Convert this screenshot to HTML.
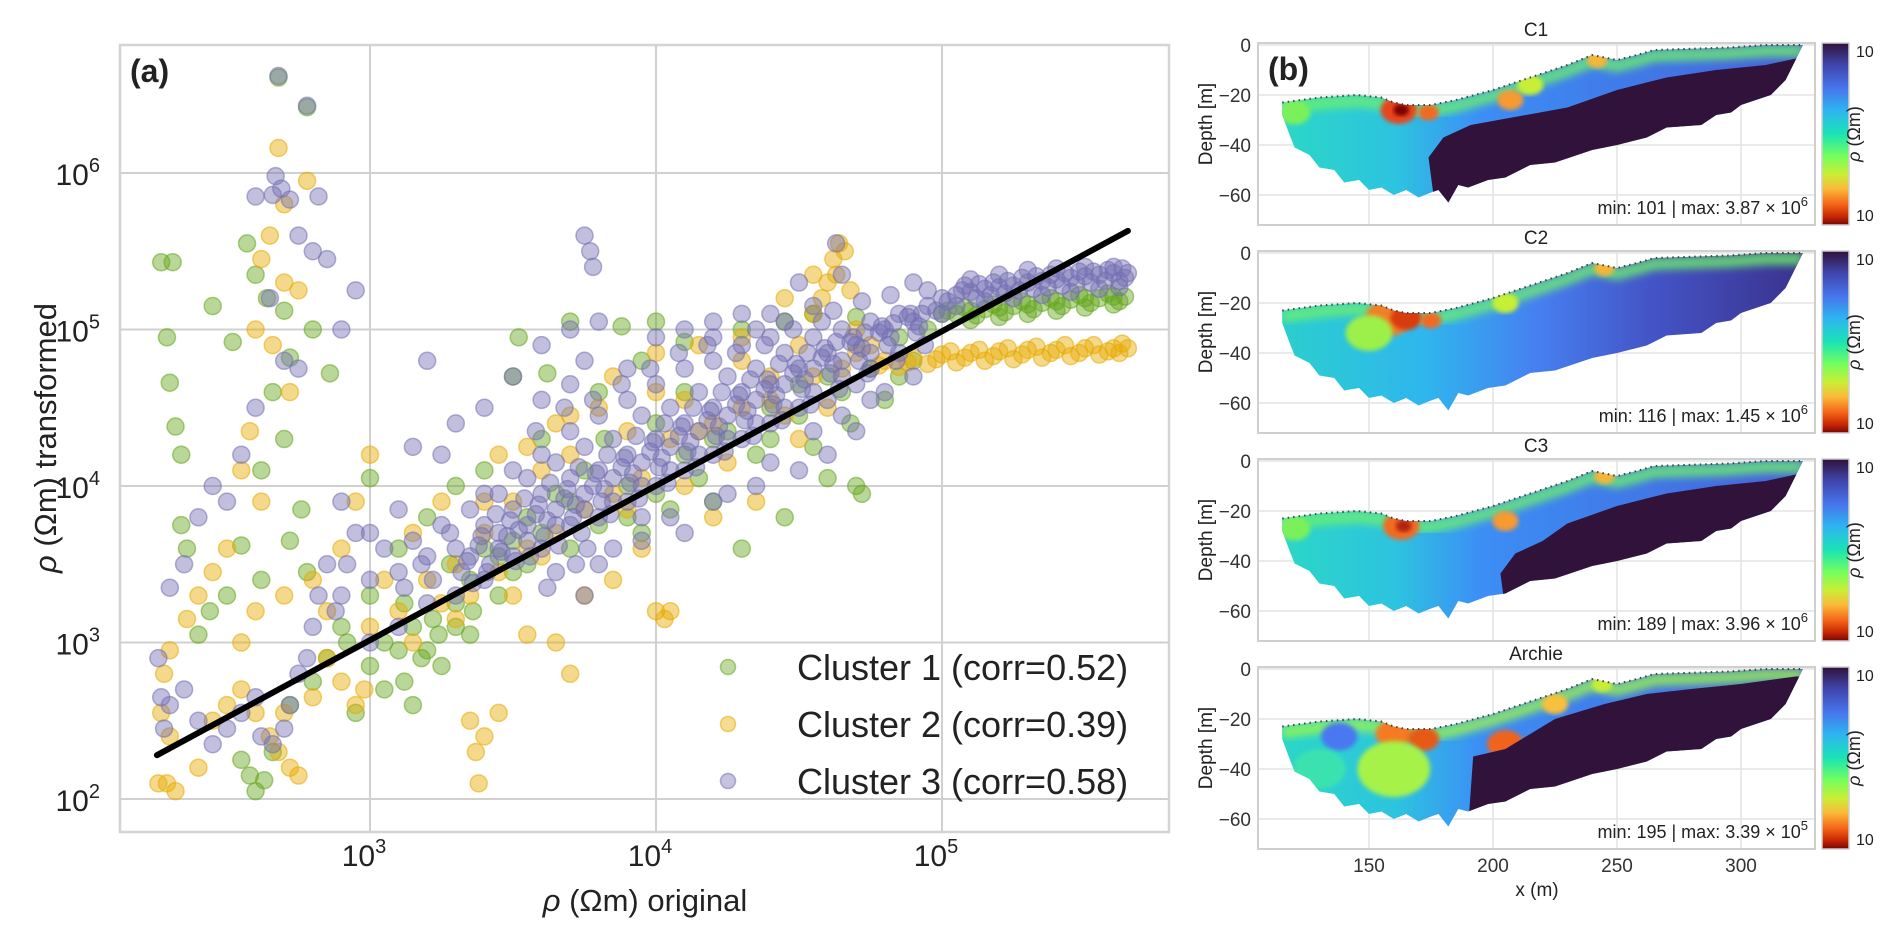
<!DOCTYPE html>
<html><head><meta charset="utf-8">
<style>
html,body{margin:0;padding:0;background:#fff;}
svg{display:block;font-family:"Liberation Sans",sans-serif;}
</style></head>
<body>
<svg id="fig" width="1892" height="935" viewBox="0 0 1892 935">
<defs>
<linearGradient id="turbo" x1="0" y1="0" x2="0" y2="1">
<stop offset="0" stop-color="#30123b"/><stop offset="0.12" stop-color="#4145ab"/><stop offset="0.25" stop-color="#4675ed"/><stop offset="0.37" stop-color="#2fb4f0"/><stop offset="0.5" stop-color="#1ae4b6"/><stop offset="0.62" stop-color="#72fe5e"/><stop offset="0.72" stop-color="#c8ef34"/><stop offset="0.8" stop-color="#faba39"/><stop offset="0.88" stop-color="#f66b19"/><stop offset="0.95" stop-color="#ca2a04"/><stop offset="1" stop-color="#7a0403"/>
</linearGradient>
<filter id="blur4"><feGaussianBlur stdDeviation="4"/></filter>
<filter id="blur2"><feGaussianBlur stdDeviation="2"/></filter>
</defs>
<g id="left"></g>
<g id="right"></g>
</svg>
<script>
// ---------- Panel (a) data: log10(rho original), log10(rho transformed) ----------
const xTickExps = [3, 4, 5];
const yTickExps = [2, 3, 4, 5, 6];
const legendLabels = ["Cluster 1 (corr=0.52)", "Cluster 2 (corr=0.39)", "Cluster 3 (corr=0.58)"];
const fitLineX = [2.255, 5.65];
const fitLineY = [2.28, 5.63];
const c1 = [[2.27,5.43],[2.31,5.43],[2.68,6.61],[2.78,6.42],[2.29,4.95],[2.30,4.66],[2.32,4.38],[2.34,4.2],[2.45,5.15],[2.52,4.92],[2.57,5.55],[2.6,5.35],[2.64,5.2],[2.7,5.12],[2.72,4.82],[2.66,4.6],[2.62,4.1],[2.55,3.62],[2.8,5.0],[2.86,4.72],[2.76,3.85],[2.44,3.2],[2.4,3.05],[2.55,2.25],[2.58,2.15],[2.6,2.05],[2.63,2.12],[2.66,2.3],[2.72,2.6],[2.8,2.75],[2.85,2.9],[2.92,3.0],[3.0,2.85],[3.05,2.7],[3.1,2.95],[3.15,3.1],[3.2,2.95],[3.22,3.15],[3.3,3.25],[3.28,3.5],[3.35,3.4],[3.4,3.6],[3.45,3.3],[3.5,3.65],[3.55,3.8],[3.6,3.7],[3.65,3.95],[3.7,3.9],[3.75,4.1],[3.5,4.7],[3.52,4.95],[3.62,4.72],[3.7,5.05],[3.88,5.02],[4.0,5.05],[4.1,4.92],[4.3,5.0],[4.45,5.05],[4.55,5.1],[4.7,5.08],[3.82,4.3],[3.9,4.0],[3.95,3.7],[4.05,3.85],[4.15,4.05],[4.2,3.9],[4.3,3.6],[4.35,4.2],[4.45,3.8],[4.55,4.25],[4.6,4.05],[4.7,4.0],[4.72,3.95],[4.68,4.4],[4.8,4.55],[4.85,4.7],[4.9,4.8],[3.0,3.3],[3.1,3.6],[3.2,3.8],[3.3,4.0],[3.4,4.1],[3.0,4.05],[3.05,3.0],[2.95,2.55],[3.15,2.6],[3.35,3.05],[4.0,4.4],[4.1,4.6],[4.2,4.3],[4.4,4.5],[4.5,4.65],[4.6,4.7],[3.6,4.3],[3.8,4.6],[3.95,4.8],[2.34,3.75],[2.36,3.6],[2.5,3.3],[2.62,3.4],[2.7,4.3],[2.72,3.65],[2.78,3.45],[2.9,3.1],[3.25,2.85],[3.45,3.55],[3.12,3.25],[3.12,2.75],[3.18,2.9],[3.24,3.05],[3.3,3.1],[3.36,3.2],[3.5,3.45],[3.55,3.5],[3.7,3.6],[3.8,3.75],[3.9,3.8],[4.0,3.95],[4.1,4.2],[4.25,4.35],[4.4,4.3],[4.5,4.45],[4.65,4.6],[4.75,4.75],[4.85,4.95],[4.95,5.0],[5.0,5.1],[5.05,5.1],[5.1,5.12],[5.15,5.13],[5.2,5.14],[5.25,5.15],[5.3,5.16],[5.35,5.17],[5.4,5.18],[5.45,5.19],[5.5,5.2],[5.55,5.2],[5.6,5.21],[5.64,5.21],[5.6,5.16],[5.5,5.14],[5.4,5.12],[5.3,5.1],[5.2,5.08],[5.1,5.06],[5.02,5.12],[5.08,5.14],[5.18,5.16],[5.28,5.18],[5.38,5.2],[5.48,5.22],[5.58,5.23],[5.62,5.18],[5.52,5.17],[5.42,5.15],[5.32,5.13],[5.22,5.11],[5.12,5.09]];
const c2 = [[2.68,6.16],[2.78,5.95],[2.7,5.8],[2.65,5.6],[2.62,5.45],[2.7,5.3],[2.75,5.25],[2.6,5.0],[2.66,4.9],[2.72,4.6],[2.58,4.35],[2.55,4.1],[2.62,3.9],[2.5,3.6],[2.45,3.45],[2.4,3.3],[2.36,3.15],[2.3,2.95],[2.28,2.8],[2.27,2.55],[2.3,2.4],[2.26,2.1],[2.29,2.1],[2.32,2.05],[2.4,2.2],[2.45,2.5],[2.5,2.6],[2.55,2.7],[2.6,2.55],[2.65,2.4],[2.68,2.3],[2.72,2.2],[2.75,2.15],[2.7,2.55],[2.8,2.65],[2.85,2.9],[2.9,2.75],[2.95,2.6],[2.98,2.7],[3.0,3.1],[3.1,3.2],[2.55,3.0],[2.6,3.2],[2.7,3.3],[2.8,3.4],[3.35,2.5],[3.4,2.4],[3.37,2.3],[3.38,2.1],[3.45,2.55],[3.3,3.5],[3.4,3.7],[3.5,3.9],[3.6,4.1],[3.65,4.4],[3.7,4.2],[3.8,4.5],[3.9,4.35],[4.0,4.6],[4.1,4.55],[4.2,4.4],[4.3,4.8],[4.4,4.7],[4.5,4.9],[4.55,5.1],[4.6,5.3],[4.62,5.45],[4.64,5.55],[4.66,5.5],[4.63,5.35],[4.68,5.25],[4.7,5.0],[4.58,5.2],[3.75,3.3],[3.85,3.4],[3.95,3.6],[4.0,3.2],[4.03,3.15],[4.05,3.2],[3.65,3.0],[3.7,2.8],[3.55,3.05],[4.2,3.8],[4.35,3.9],[4.5,4.3],[4.6,4.5],[3.2,3.4],[3.15,3.7],[3.25,3.9],[3.45,4.2],[2.9,3.6],[2.95,3.9],[3.0,4.2],[2.85,3.2],[3.5,3.3],[3.6,3.55],[3.9,3.85],[4.1,4.0],[4.25,4.15],[4.45,4.45],[3.05,3.4],[3.15,3.0],[3.25,3.25],[3.3,3.15],[3.35,3.3],[3.45,3.45],[3.55,3.6],[3.65,3.7],[3.75,3.85],[3.85,3.95],[3.95,4.05],[4.05,4.3],[4.15,4.35],[4.3,4.5],[4.4,4.55],[4.55,4.7],[4.65,4.75],[3.4,3.9],[3.55,4.25],[3.7,4.45],[3.85,4.7],[4.0,4.85],[4.15,4.9],[4.3,4.95],[4.45,5.2],[4.55,5.35],[4.8,4.8],[4.9,4.82],[5.0,4.84],[5.1,4.85],[5.2,4.86],[5.3,4.87],[5.4,4.87],[5.5,4.88],[5.6,4.88],[5.65,4.88],[5.55,4.84],[5.45,4.83],[5.35,4.82],[5.25,4.81],[5.15,4.80],[5.05,4.79],[4.95,4.78],[4.85,4.76],[4.75,4.9],[4.7,4.85],[5.62,4.85],[5.58,4.86],[5.48,4.85],[5.38,4.85],[5.28,4.84],[5.18,4.83],[5.08,4.82],[4.98,4.81],[4.88,4.79],[4.78,4.77],[5.03,4.86],[5.13,4.87],[5.23,4.88],[5.33,4.89],[5.43,4.9],[5.53,4.9],[5.63,4.91]];
const c3 = [[2.68,6.62],[2.78,6.43],[2.67,5.98],[2.69,5.9],[2.66,5.86],[2.72,5.83],[2.82,5.85],[2.6,5.85],[2.75,5.6],[2.8,5.5],[2.85,5.45],[2.65,5.2],[2.7,4.8],[2.75,4.75],[2.9,5.0],[2.95,5.25],[2.6,4.5],[2.55,4.2],[2.5,3.9],[2.45,4.0],[2.4,3.8],[2.35,3.5],[2.3,3.35],[2.26,2.9],[2.27,2.65],[2.28,2.45],[2.3,2.6],[2.35,2.7],[2.4,2.5],[2.45,2.35],[2.5,2.45],[2.55,2.55],[2.6,2.65],[2.62,2.4],[2.66,2.35],[2.7,2.45],[2.72,2.6],[2.75,2.8],[2.78,2.9],[2.8,3.1],[2.82,3.3],[2.85,3.5],[2.88,3.2],[2.9,3.3],[2.92,3.5],[2.95,3.7],[3.0,3.4],[3.05,3.6],[3.1,3.45],[3.15,3.65],[3.2,3.55],[3.25,3.75],[3.3,3.6],[3.35,3.85],[3.4,3.75],[3.45,3.95],[3.5,3.85],[3.55,4.05],[3.6,3.95],[3.65,4.15],[3.7,4.05],[3.75,4.25],[3.8,4.1],[3.85,4.3],[3.9,4.2],[3.95,4.45],[4.0,4.3],[4.05,4.5],[4.1,4.4],[4.15,4.6],[4.2,4.5],[4.25,4.7],[4.3,4.6],[4.35,4.75],[4.4,4.65],[4.45,4.85],[4.5,4.75],[4.55,4.95],[4.6,4.85],[4.65,5.0],[4.7,4.9],[4.75,5.05],[4.8,5.0],[4.85,5.1],[4.9,5.05],[4.95,5.15],[5.0,5.1],[3.0,3.0],[3.1,3.1],[3.2,3.25],[3.3,3.3],[3.4,3.4],[3.5,3.55],[3.6,3.6],[3.7,3.75],[3.8,3.8],[3.9,3.9],[4.0,4.0],[4.1,4.1],[4.2,4.2],[4.3,4.3],[4.4,4.4],[4.5,4.5],[4.6,4.55],[4.7,4.65],[3.25,4.2],[3.4,4.5],[3.5,4.7],[3.6,4.9],[3.7,5.0],[3.2,4.8],[3.3,4.4],[3.15,4.25],[3.75,4.8],[3.8,5.05],[3.75,5.6],[3.77,5.5],[3.78,5.4],[4.2,4.95],[4.3,5.1],[4.5,5.3],[4.63,5.55],[4.65,5.35],[4.55,5.15],[4.4,5.1],[3.95,3.8],[4.1,3.7],[4.2,3.9],[4.35,4.0],[4.5,4.1],[4.6,4.2],[4.7,4.35],[4.8,4.6],[3.65,3.45],[3.8,3.5],[3.75,3.3],[3.76,3.6],[3.35,3.55],[3.45,3.7],[3.55,3.75],[3.65,3.85],[3.75,3.95],[3.85,4.05],[3.95,4.15],[4.05,4.25],[4.15,4.35],[4.25,4.45],[4.35,4.55],[4.45,4.65],[4.55,4.75],[4.65,4.8],[4.75,4.85],[3.4,3.95],[3.5,4.1],[3.6,4.2],[3.7,4.35],[3.8,4.45],[3.9,4.55],[4.0,4.65],[4.1,4.75],[4.2,4.8],[4.3,4.9],[4.4,4.95],[3.1,3.85],[3.0,3.7],[2.9,3.9],
[3.32,3.45],[3.38,3.62],[3.42,3.5],[3.48,3.68],[3.52,3.72],[3.58,3.82],[3.62,3.78],[3.68,3.92],[3.72,3.88],[3.78,4.0],[3.82,3.98],[3.88,4.12],[3.92,4.08],[3.98,4.22],[4.02,4.18],[4.08,4.32],[4.12,4.28],[4.18,4.42],[4.22,4.38],[4.28,4.52],[4.32,4.48],[4.38,4.62],[4.42,4.58],[4.48,4.72],[4.52,4.68],[4.58,4.82],[4.62,4.78],[4.68,4.92],[4.72,4.88],[4.78,4.98],[4.82,4.95],[4.88,5.08],[4.92,5.02],[4.98,5.12],[3.45,3.6],[3.55,3.65],[3.65,3.75],[3.75,3.85],[3.85,3.9],[3.95,4.0],[4.05,4.1],[4.15,4.2],[4.25,4.3],[4.35,4.4],[4.45,4.5],[4.55,4.6],[4.65,4.7],[4.75,4.75],[4.85,4.85],[3.58,4.35],[3.68,4.5],[3.78,4.55],[3.88,4.65],[3.98,4.75],[4.08,4.85],[4.18,4.9],[4.28,4.85],[4.38,4.9],[4.48,5.0],[4.58,5.05],[3.62,3.35],[3.72,3.5],[3.85,3.6],[3.95,3.65],[4.05,3.8],[4.25,3.95],[4.4,4.15],[4.55,4.35],[4.65,4.45],[4.75,4.55],[4.9,4.7],[3.22,3.4],[3.28,3.7],[3.18,3.5],[3.12,3.35],
[3.34,3.52],[3.36,3.38],[3.44,3.82],[3.46,3.58],[3.54,3.92],[3.56,3.55],[3.63,4.02],[3.66,3.62],[3.73,4.12],[3.74,3.7],[3.83,4.2],[3.84,3.82],[3.93,4.32],[3.94,3.92],[4.03,4.4],[4.04,4.02],[4.13,4.5],[4.14,4.12],[4.23,4.6],[4.24,4.22],[4.33,4.68],[4.34,4.32],[4.43,4.78],[4.44,4.42],[4.53,4.85],[4.54,4.52],[4.63,4.92],[4.64,4.62],[4.73,4.98],[4.74,4.72],[4.83,5.04],[4.84,4.8],[4.93,5.1],[4.94,4.9],[3.39,3.68],[3.49,3.78],[3.59,3.88],[3.69,3.98],[3.79,4.08],[3.89,4.18],[3.99,4.28],[4.09,4.38],[4.19,4.48],[4.29,4.58],[4.39,4.68],[4.49,4.78],[4.59,4.88],[4.69,4.95],[4.79,5.02],[4.89,5.1],[3.41,3.45],[3.51,3.52],[3.61,3.68],[3.71,3.8],[3.81,3.9],[3.91,4.02],[4.01,4.12],[4.11,4.22],[4.21,4.32],[4.31,4.42],[4.41,4.52],[4.51,4.62],[4.61,4.72],[4.71,4.8],[4.81,4.9],[4.91,4.98],[3.6,4.55],[3.7,4.65],[3.9,4.75],[4.0,4.95],[4.1,5.0],[4.2,5.05],[4.35,5.0],[4.45,5.05],[4.62,5.12],[4.72,5.18],[4.82,5.22],
[5.0,5.2],[5.05,5.22],[5.1,5.24],[5.15,5.26],[5.2,5.27],[5.25,5.28],[5.3,5.3],[5.35,5.31],[5.4,5.32],[5.45,5.33],[5.5,5.34],[5.55,5.35],[5.6,5.36],[5.65,5.36],[5.05,5.15],[5.15,5.18],[5.25,5.2],[5.35,5.22],[5.45,5.24],[5.55,5.26],[5.62,5.27],[5.1,5.32],[5.2,5.35],[5.3,5.38],[5.4,5.39],[5.5,5.4],[5.6,5.4],[4.9,5.3],[4.95,5.25],[5.02,5.18],[5.12,5.2],[5.22,5.23],[5.32,5.26],[5.42,5.28],[5.52,5.3],[5.62,5.31],[5.08,5.28],[5.18,5.3],[5.28,5.33],[5.38,5.35],[5.48,5.37],[5.58,5.38],[5.64,5.33],[5.07,5.25],[5.17,5.22],[5.27,5.25],[5.37,5.27],[5.47,5.29],[5.57,5.31],[5.13,5.29],[5.23,5.31],[5.33,5.34],[5.43,5.36],[5.53,5.37],[5.63,5.39]];
const clusterColors = ["#66a61e", "#e6ab02", "#7570b3"];

// ---------- Panel (b) data ----------
const panelTitles = ["C1", "C2", "C3", "Archie"];
const panelMinMax = [["101","3.87","6"],["116","1.45","6"],["189","3.96","6"],["195","3.39","5"]];
const xTicksB = [150, 200, 250, 300];
const yTicksB = [0, -20, -40, -60];
const surfX = [115,130,145,155,160,165,175,185,200,215,230,240,245,250,258,265,280,295,310,325];
const surfD = [-23,-21,-20,-21,-23,-24,-24,-22,-18,-13,-8,-4,-5,-6,-4,-2,-1.5,-1,0,0];
const baseX = [323,318,312,300,296,290,284,270,262,250,240,225,215,205,198,190,186,182,178,175,170,165,160,155,150,146,140,136,130,126,120,118,115];
const baseD = [-4,-14,-20,-24,-27,-28,-32,-33,-37,-40,-42,-47,-48,-53,-54,-57,-56,-63,-58,-59,-61,-58,-60,-57,-58,-54,-55,-50,-49,-44,-41,-36,-28];
const darkStart = [176, null, 205, 190];

const NS = "http://www.w3.org/2000/svg";
function mk(tag, attrs, parent){const e=document.createElementNS(NS,tag);for(const k in attrs)e.setAttribute(k,attrs[k]);if(parent)parent.appendChild(e);return e;}

// ---------- Panel (a) ----------
const L = document.getElementById('left');
const AX = {x0:120, x1:1169, y0:45, y1:832};
const ax = lx => 370 + (lx-3)*286;
const ay = ly => 173 + (6-ly)*156.5;
let fr = mk('rect',{x:AX.x0,y:AX.y0,width:AX.x1-AX.x0,height:AX.y1-AX.y0,fill:'#fff',stroke:'#d4d4d4','stroke-width':2.5},L);


xTickExps.forEach(e=>{
  const g=mk('line',{x1:ax(e),x2:ax(e),y1:AX.y0,y2:AX.y1,stroke:'#d0d0d0','stroke-width':2},L);
  
  
  const t=mk('text',{x:ax(e)-6,y:866,'font-size':30,'text-anchor':'middle',fill:'#222'},L);
  
  
  t.innerHTML='10<tspan dy="-13" font-size="20">'+e+'</tspan>';
});
yTickExps.forEach(e=>{
  const g=mk('line',{x1:AX.x0,x2:AX.x1,y1:ay(e),y2:ay(e),stroke:'#d0d0d0','stroke-width':2},L);
  
  
  const t=mk('text',{x:100,y:ay(e)+12,'font-size':30,'text-anchor':'end',fill:'#222'},L);
  
  
  t.innerHTML='10<tspan dy="-13" font-size="20">'+e+'</tspan>';
});
const clip=mk('clipPath',{id:'clipA'},document.querySelector('defs'));
mk('rect',{x:AX.x0,y:AX.y0,width:AX.x1-AX.x0,height:AX.y1-AX.y0},clip);
const pts=mk('g',{'clip-path':'url(#clipA)'},L);
[c1,c2,c3].forEach((arr,ci)=>{
  const g=mk('g',{},pts);
  
  
  arr.forEach(p=>{
    const c=mk('circle',{cx:ax(p[0]),cy:ay(p[1]),r:8.5,fill:clusterColors[ci],'fill-opacity':0.45,stroke:clusterColors[ci],'stroke-opacity':0.55,'stroke-width':1.5},g);
    
    
  });
});
const fl=mk('line',{x1:ax(fitLineX[0]),y1:ay(fitLineY[0]),x2:ax(fitLineX[1]),y2:ay(fitLineY[1]),stroke:'#000','stroke-width':6,'stroke-linecap':'round'},pts);


legendLabels.forEach((lab,i)=>{
  const y=667+i*57;
  const m=mk('circle',{cx:728,cy:y,r:7.5,fill:clusterColors[i],'fill-opacity':0.42,stroke:clusterColors[i],'stroke-opacity':0.55,'stroke-width':1.5},L);
  
  
  const t=mk('text',{x:797,y:y+13,'font-size':36,fill:'#222'},L);
  t.textContent=lab;
  
  
});
let t=mk('text',{x:130,y:82,'font-size':32,'font-weight':'bold',fill:'#222'},L);
t.textContent='(a)';


t=mk('text',{x:645,y:911,'font-size':31,'text-anchor':'middle',fill:'#222'},L);
t.innerHTML='<tspan font-style="italic">ρ</tspan> (Ωm) original';


t=mk('text',{x:0,y:0,'font-size':31,'text-anchor':'middle',fill:'#222',transform:'translate(56,438) rotate(-90)'},L);
t.innerHTML='<tspan font-style="italic">ρ</tspan> (Ωm) transformed';



// ---------- Panel (b) ----------
const R=document.getElementById('right');
const bx = x => 997 + x*2.48;
const BX0=1258, BX1=1815, PH=182;
const tops=[43,251,459,667];
const defs=document.querySelector('defs');
panelTitles.forEach((title,i)=>{
  const top=tops[i];
  const by = d => top+2 + (-d)*2.5;
  const g=mk('g',{},R);
  
  
  mk('rect',{x:BX0,y:top,width:BX1-BX0,height:PH,fill:'#fff'},g);
  xTicksB.forEach(v=>{const l=mk('line',{x1:bx(v),x2:bx(v),y1:top,y2:top+PH,stroke:'#e3e3e3','stroke-width':1.5},g);
    
    });
  yTicksB.forEach(v=>{const l=mk('line',{x1:BX0,x2:BX1,y1:by(v),y2:by(v),stroke:'#e3e3e3','stroke-width':1.5},g);
    
    
    const tl=mk('text',{x:1251,y:by(v)+7,'font-size':19,'text-anchor':'end',fill:'#333'},g);
    tl.textContent=v===0?'0':'−'+(-v);
    
    });
  let d='M';
  surfX.forEach((x,k)=>{d+=bx(x)+','+by(surfD[k])+' L';});
  baseX.forEach((x,k)=>{d+=bx(x)+','+by(baseD[k])+(k<baseX.length-1?' L':' Z');});
  const cp=mk('clipPath',{id:'cp'+i},defs);
  mk('path',{d:d},cp);
  const gr=mk('linearGradient',{id:'hg'+i,x1:0,y1:0,x2:1,y2:0},defs);
  const stops = i===1 ? [[0,'#2ad3c8'],[0.3,'#2fb6ee'],[0.5,'#4680f0'],[0.7,'#4455c8'],[1,'#3a2f88']]
               : [[0,'#2adcc0'],[0.25,'#2dc3e0'],[0.4,'#3c8ef5'],[1,'#4660d8']];
  stops.forEach(s=>mk('stop',{offset:s[0],'stop-color':s[1]},gr));
  const sec=mk('g',{'clip-path':'url(#cp'+i+')'},g);
  mk('rect',{x:BX0,y:top,width:BX1-BX0,height:PH,fill:'url(#hg'+i+')'},sec);
  let sd='M';
  surfX.forEach((x,k)=>{sd+=bx(x)+','+(by(surfD[k])+6)+(k<surfX.length-1?' L':'');});
  mk('path',{d:sd,fill:'none',stroke:i===3?'#9cf64a':'#6ef06a','stroke-width':12,filter:'url(#blur4)','stroke-opacity':0.8},sec);
  const blobs = [
    [[120,-27,6,'#7cf05a'],[162,-26,7,'#e8451a'],[163,-26,3,'#7a0403'],[174,-27,4,'#f06a20'],[207,-22,5,'#f79a30'],[242,-6,4,'#f5b537'],[215,-16,5,'#c8ef34']],
    [[158,-26,9,'#f08028'],[165,-26,6,'#d83a0c'],[150,-32,9,'#9cf04a'],[205,-20,5,'#c8ef34'],[245,-6,4,'#f5b537'],[175,-27,4,'#f06a20']],
    [[163,-26,7,'#f06a20'],[164,-26,3,'#b02008'],[205,-24,5,'#f79a30'],[120,-27,6,'#7cf05a'],[245,-6,4,'#f5b537']],
    [[138,-27,7,'#4a78f0'],[160,-26,7,'#f57a22'],[172,-28,6,'#e65a18'],[205,-30,7,'#f0641c'],[160,-40,14,'#a6f24a'],[130,-40,10,'#3be2b0'],[225,-14,5,'#f9c03a'],[244,-6,4,'#c8ef34']]
  ][i];
  blobs.forEach(b=>mk('ellipse',{cx:bx(b[0]),cy:by(b[1]),rx:b[2]*2.6,ry:b[2]*2.0,fill:b[3],filter:'url(#blur2)'},sec));
  if(darkStart[i]!==null){
    const s=darkStart[i];
    const dp = i===3 ? [[s,-63],[s+2,-35],[205,-32],[225,-20],[245,-14],[262,-10],[280,-8],[300,-6],[322,-3],[330,-3],[330,-80],[s,-80]]
             : [[s,-60],[s-2,-45],[s+4,-37],[s+15,-32],[230,-25],[250,-18],[270,-13],[290,-10],[310,-8],[324,-5],[330,-5],[330,-80],[s,-80]];
    let dd='M';
    dp.forEach((p,k)=>{dd+=bx(p[0])+','+by(p[1])+(k<dp.length-1?' L':' Z');});
    const dk=mk('path',{d:dd,fill:'#30123b'},sec);
    
    
  }
  let dots='M';
  surfX.forEach((x,k)=>{dots+=bx(x)+','+by(surfD[k])+(k<surfX.length-1?' L':'');});
  mk('path',{d:dots,fill:'none',stroke:'#444','stroke-width':2,'stroke-dasharray':'1.5 4'},g);
  mk('rect',{x:BX0,y:top,width:BX1-BX0,height:PH,fill:'none',stroke:'#cfcfcf','stroke-width':2},g);
  const tt=mk('text',{x:1536,y:top-7,'font-size':19,'text-anchor':'middle',fill:'#222'},g);
  tt.textContent=title;
  
  
  const mm=mk('text',{x:1808,y:top+PH-11,'font-size':18,'text-anchor':'end',fill:'#222'},g);
  mm.innerHTML='min: '+panelMinMax[i][0]+' | max: '+panelMinMax[i][1]+' × 10<tspan dy="-8" font-size="13">'+panelMinMax[i][2]+'</tspan>';
  
  
  const yl=mk('text',{x:0,y:0,'font-size':19,'text-anchor':'middle',fill:'#222',transform:'translate(1212,'+(top+PH/2-10)+') rotate(-90)'},g);
  yl.textContent='Depth [m]';
  
  
  const cb=mk('rect',{x:1822,y:top,width:27,height:PH,fill:'url(#turbo)',stroke:'#cfcfcf','stroke-width':1.5},g);
  
  
  ['top','bottom'].forEach(pos=>{
    const c=mk('text',{x:1856,y:pos==='top'?top+14:top+PH-4,'font-size':16,fill:'#222'},g);
    c.textContent='10';
    
    
  });
  const cl=mk('text',{x:0,y:0,'font-size':18,'text-anchor':'middle',fill:'#222',transform:'translate(1860,'+(top+PH/2)+') rotate(-90)'},g);
  cl.innerHTML='<tspan font-style="italic">ρ</tspan> (Ωm)';
  
  
  if(i===3){
    xTicksB.forEach(v=>{const xl=mk('text',{x:bx(v),y:872,'font-size':19,'text-anchor':'middle',fill:'#333'},g);
      xl.textContent=v;
      
      });
    const xt=mk('text',{x:1537,y:896,'font-size':19,'text-anchor':'middle',fill:'#222'},g);
    xt.textContent='x (m)';
    
    
  }
  if(i===0){
    const pl=mk('text',{x:1268,y:80,'font-size':32,'font-weight':'bold',fill:'#222'},g);
    pl.textContent='(b)';
    
    
  }
});
</script>
</body></html>
